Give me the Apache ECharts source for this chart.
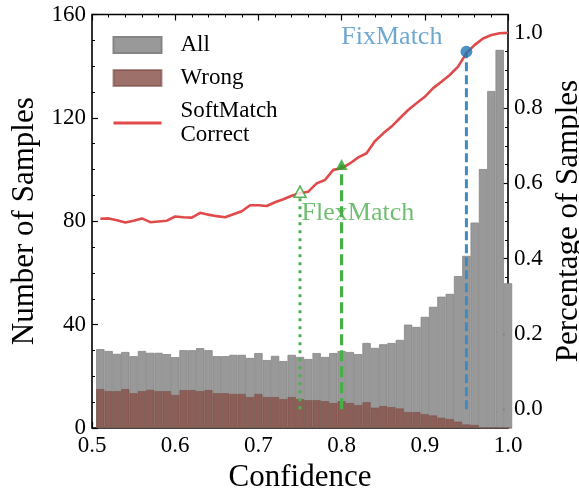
<!DOCTYPE html>
<html>
<head>
<meta charset="utf-8">
<script src="https://cdn.jsdelivr.net/npm/echarts@6/dist/echarts.min.js"></script>
<style>
  html, body { margin: 0; padding: 0; background: #fff; }
  #chart { width: 579px; height: 492px; }
</style>
</head>
<body>
<div id="chart"></div>
<script>
// histogram bins: 50 bins of width 0.01, centres 0.51 .. 1.00
const binStart = 0.51
const binWidth = 0.01
const allCounts = [30.5, 29.8, 28.7, 29.4, 27.8, 29.8, 29.1, 29.1, 28.6, 27.4,
  30.1, 30.1, 30.9, 30.1, 27.8, 27.8, 28.3, 28.3, 27.1, 29.0,
  26.3, 27.9, 25.9, 28.3, 27.5, 26.7, 29.0, 27.5, 29.0, 29.8,
  29.4, 28.6, 32.9, 31.0, 32.4, 32.9, 34.1, 40.0, 39.1, 43.0,
  46.9, 50.8, 51.9, 58.8, 66.6, 79.5, 100.2, 130.4, 146.3, 56.0]
const wrongCounts = [15.1, 14.3, 14.3, 15.1, 13.5, 14.3, 14.8, 14.3, 14.3, 12.8,
  14.7, 14.7, 14.3, 14.7, 13.5, 13.5, 13.2, 13.2, 12.0, 13.2,
  12.0, 12.0, 11.2, 12.0, 11.2, 10.8, 10.8, 10.4, 9.7, 10.4,
  9.7, 8.9, 10.0, 7.9, 8.5, 8.1, 7.6, 6.2, 6.2, 5.4,
  4.9, 4.0, 3.5, 2.5, 1.4, 1.2, 0, 0, 0, 0]
const correctRatio = [0.506, 0.507, 0.502, 0.496, 0.501, 0.507, 0.497, 0.499, 0.501, 0.512,
  0.510, 0.509, 0.522, 0.517, 0.513, 0.510, 0.518, 0.526, 0.542, 0.542,
  0.540, 0.550, 0.558, 0.567, 0.574, 0.578, 0.600, 0.609, 0.636, 0.640,
  0.653, 0.669, 0.680, 0.712, 0.733, 0.751, 0.773, 0.795, 0.813, 0.830,
  0.853, 0.870, 0.888, 0.910, 0.946, 0.968, 0.985, 0.994, 0.999, 1.000]

// thresholds of other methods
const fixMatch = [0.95, 0.95]
const flexLow = [0.75, 0.578]
const flexHigh = [0.8, 0.65]

const font = '"Liberation Serif", "DejaVu Serif", serif'
const binCenters = allCounts.map((d, i) => +(binStart + i * binWidth).toFixed(2))

const chart = echarts.init(document.getElementById('chart'))

const tickStyle = {lineStyle: {color: '#000', width: 1.2}}
const minorStyle = {lineStyle: {color: '#000', width: 1}}
const option = {
  animation: false,
  grid: [
    {left: 92, right: 71, top: 14.5, bottom: 64, outerBoundsMode: 'none', containLabel: false,
      show: true, borderColor: '#000', borderWidth: 1.6, backgroundColor: 'transparent'},
    {left: 92, right: 71, top: 32.8, bottom: 82.7, outerBoundsMode: 'none', containLabel: false}
  ],
  legend: {
    orient: 'vertical',
    left: 112,
    top: 33,
    padding: 0,
    itemWidth: 48,
    itemHeight: 16,
    itemGap: 9,
    textStyle: {fontFamily: font, fontSize: 23, lineHeight: 24, color: '#000', padding: [0, 0, 0, 14]},
    data: [
      {name: 'All', icon: 'rect'},
      {name: 'Wrong', icon: 'rect'},
      {name: 'SoftMatch\nCorrect', itemStyle: {opacity: 0}, lineStyle: {width: 3}}
    ]
  },
  xAxis: [
    {
      gridIndex: 0, type: 'value', min: 0.5, max: 1.0, interval: 0.1,
      axisLine: {show: false},
      axisTick: {show: true, inside: true, length: 6, ...tickStyle},
      minorTick: {show: true, splitNumber: 5, length: 3, ...minorStyle},
      splitLine: {show: false},
      axisLabel: {fontFamily: font, fontSize: 23, color: '#000', margin: 6, formatter: v => v.toFixed(1)},
      name: 'Confidence', nameLocation: 'middle', nameGap: 22,
      nameTextStyle: {fontFamily: font, fontSize: 31, color: '#000'}
    },
    {
      gridIndex: 0, type: 'value', position: 'top', min: 0.5, max: 1.0, interval: 0.1,
      axisLine: {show: false},
      axisTick: {show: true, inside: true, length: 6, ...tickStyle},
      minorTick: {show: true, splitNumber: 5, length: 3, ...minorStyle},
      splitLine: {show: false},
      axisLabel: {show: false}
    },
    {
      gridIndex: 1, type: 'value', min: 0.5, max: 1.0, show: false
    }
  ],
  yAxis: [
    {
      gridIndex: 0, type: 'value', min: 0, max: 160, interval: 40,
      axisLine: {show: false},
      axisTick: {show: true, inside: true, length: 6, ...tickStyle},
      minorTick: {show: true, splitNumber: 4, length: 3, ...minorStyle},
      splitLine: {show: false},
      axisLabel: {fontFamily: font, fontSize: 23, color: '#000', margin: 6},
      name: 'Number of Samples', nameLocation: 'middle', nameGap: 40, nameRotate: 90,
      nameTextStyle: {fontFamily: font, fontSize: 31, color: '#000'}
    },
    {
      gridIndex: 1, type: 'value', position: 'right', min: 0, max: 1, interval: 0.2,
      axisLine: {show: false},
      axisTick: {show: true, inside: true, length: 6, ...tickStyle},
      minorTick: {show: true, splitNumber: 4, length: 3, ...minorStyle},
      splitLine: {show: false},
      axisLabel: {fontFamily: font, fontSize: 23, color: '#000', margin: 6, formatter: v => v.toFixed(1)},
      name: 'Percentage of Samples', nameLocation: 'middle', nameGap: 44, nameRotate: 90,
      nameTextStyle: {fontFamily: font, fontSize: 31, color: '#000'}
    }
  ],
  series: [
    {
      name: 'All', type: 'bar', xAxisIndex: 0, yAxisIndex: 0,
      data: binCenters.map((x, i) => [x, allCounts[i]]),
      barWidth: 8.32, barGap: '-100%',
      itemStyle: {color: '#999999', borderColor: '#858585', borderWidth: 0.8}
    },
    {
      name: 'Wrong', type: 'bar', xAxisIndex: 0, yAxisIndex: 0,
      data: binCenters.map((x, i) => [x, wrongCounts[i]]),
      barWidth: 8.32, barGap: '-100%',
      itemStyle: {color: 'rgba(135,82,72,0.82)', borderColor: 'rgba(120,75,68,0.6)', borderWidth: 0.8}
    },
    {
      name: 'fixLine', type: 'line', xAxisIndex: 2, yAxisIndex: 1, symbol: 'none',
      data: [[fixMatch[0], 0], fixMatch],
      lineStyle: {color: '#3d8bc3', width: 3, type: [9, 4]}, z: 3
    },
    {
      name: 'flexLowLine', type: 'line', xAxisIndex: 2, yAxisIndex: 1, symbol: 'none',
      data: [[flexLow[0], 0], flexLow],
      lineStyle: {color: '#4cb04c', width: 3, type: [3, 5]}, z: 3
    },
    {
      name: 'flexHighLine', type: 'line', xAxisIndex: 2, yAxisIndex: 1, symbol: 'none',
      data: [[flexHigh[0], 0], flexHigh],
      lineStyle: {color: '#45b045', width: 3.2, type: [11, 5]}, z: 3
    },
    {
      name: 'SoftMatch\nCorrect', type: 'line', xAxisIndex: 2, yAxisIndex: 1,
      symbol: 'none', clip: false,
      data: binCenters.map((x, i) => [x, correctRatio[i]]),
      lineStyle: {color: '#e04a4a', width: 2.6}, itemStyle: {color: '#e04a4a'}, z: 4
    },
    {
      name: 'fixPoint', type: 'scatter', xAxisIndex: 2, yAxisIndex: 1,
      data: [fixMatch], symbol: 'circle', symbolSize: 12,
      itemStyle: {color: '#1f77b4'}, z: 5,
      label: {show: true, position: [-18, -8], align: 'right', verticalAlign: 'middle',
        formatter: 'FixMatch', fontFamily: font, fontSize: 26, color: '#4a91c4'}
    },
    {
      name: 'flexPoints', type: 'scatter', xAxisIndex: 2, yAxisIndex: 1,
      data: [
        {value: flexLow, itemStyle: {color: '#fff', borderColor: '#2ca02c', borderWidth: 1.5}},
        {value: flexHigh, itemStyle: {color: '#2ca02c'},
          label: {show: true, position: [-34, 54], align: 'left', verticalAlign: 'middle',
            formatter: 'FlexMatch', fontFamily: font, fontSize: 26, color: '#4cae4c'}}
      ],
      symbol: 'triangle', symbolSize: [12, 11], z: 5
    }
  ]
}
chart.setOption(option)
</script>
</body>
</html>
